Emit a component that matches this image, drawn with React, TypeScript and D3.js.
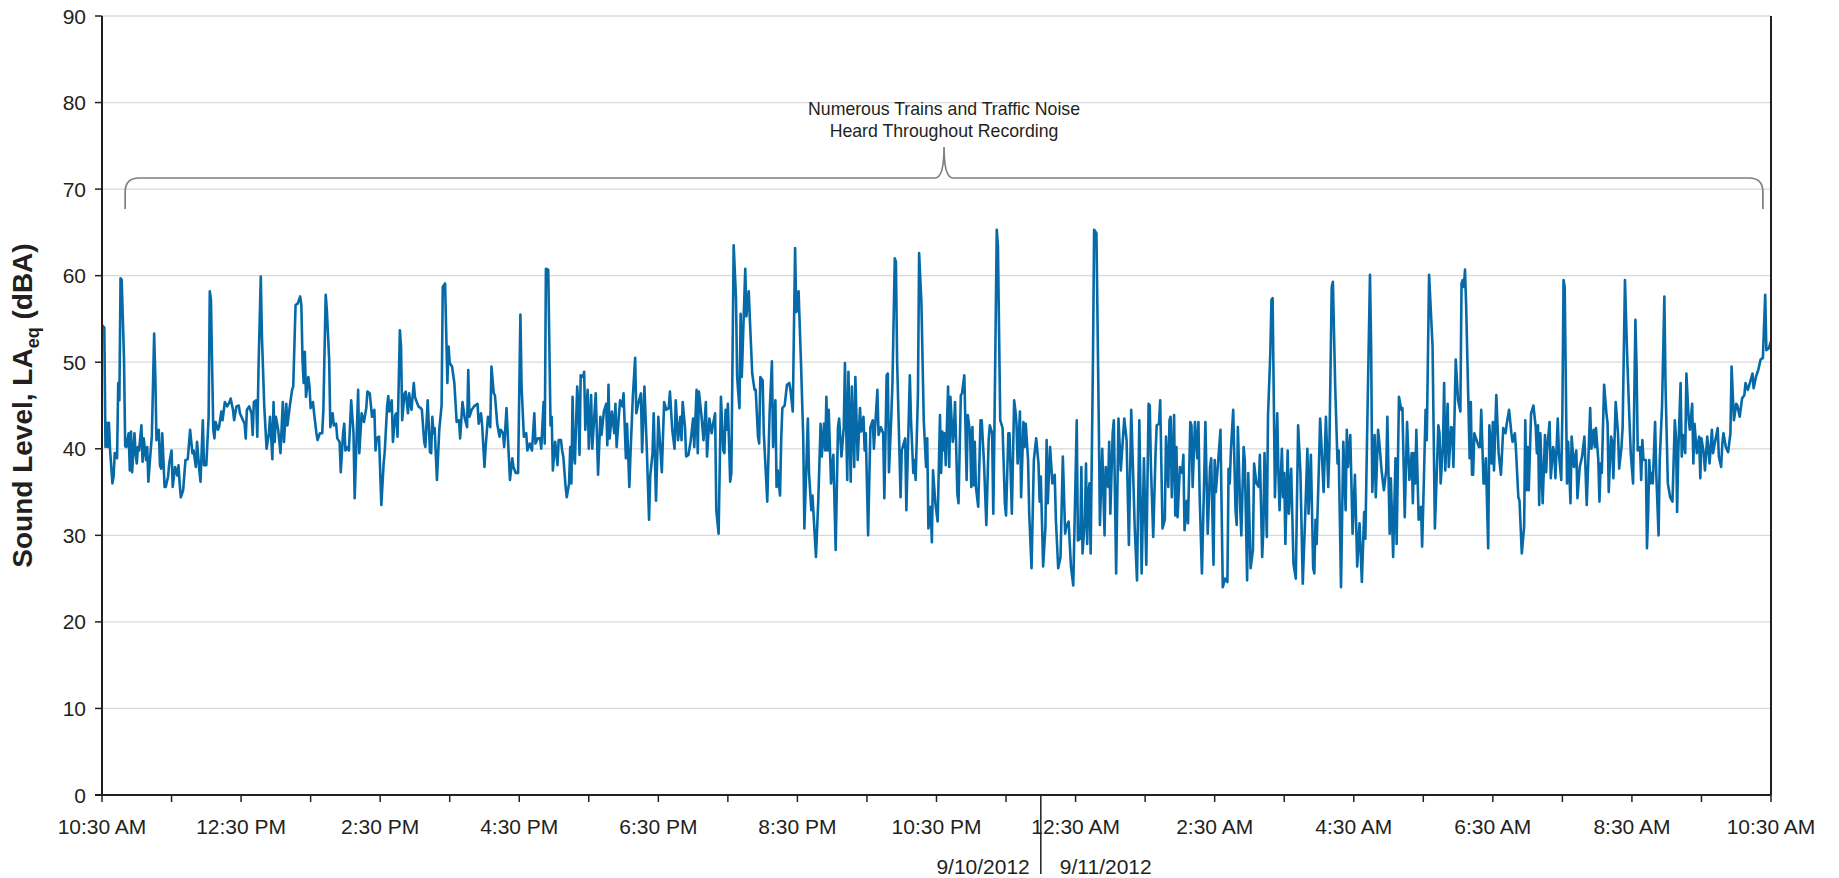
import React from 'react'
import * as d3 from 'd3'

// recording started 9/10/2012 10:30 AM, one LAeq value per reading (minutes after start)
const startTime = new Date(2012, 8, 10, 10, 30)
const recordMinutes = 1440

const yTicks = [0, 10, 20, 30, 40, 50, 60, 70, 80, 90]
const noteLines = ['Numerous Trains and Traffic Noise', 'Heard Throughout Recording']
const noteSpan = [20, 1433]

const readings: [number, number][] = [
  [0, 54.3], [2, 54], [3, 40.2], [4, 43], [5, 40.2], [6, 43], [7, 39.8], [9, 36], [10, 36.8], [11, 39.5], [13, 38.9], [14, 47.6], [15, 45.6], [16, 59.7], [17, 59.5], [19, 50.3], [20, 40.3], [21, 40.2], [23, 41.8], [24, 37.5], [25, 42], [26, 37.3], [28, 41.8], [29, 39.5], [30, 38.3], [31, 40.2], [32, 39.8], [34, 42.7], [35, 38.5], [36, 41.2], [38, 38.7], [39, 40.2], [40, 36.2], [42, 39.8], [43, 41.4], [45, 53.3], [46, 48.3], [47, 41], [49, 42.2], [50, 38.1], [51, 37.7], [52, 41.8], [54, 35.6], [55, 35.6], [57, 36.8], [58, 38.3], [60, 39.8], [61, 35.6], [63, 37.9], [65, 36.9], [66, 38.1], [67, 36], [68, 34.4], [70, 35.2], [72, 38.7], [74, 38.8], [76, 42.2], [78, 39.5], [79, 39.8], [81, 37.9], [82, 40.8], [84, 37.5], [85, 36.2], [87, 43.3], [88, 38.1], [90, 38.1], [92, 43.7], [93, 58.2], [94, 57.2], [96, 42.2], [97, 41.2], [98, 43.1], [100, 42.2], [101, 42.5], [103, 44.3], [104, 43.3], [106, 45.4], [108, 44.9], [110, 45.4], [111, 45.8], [113, 44.5], [114, 43.3], [116, 44.9], [118, 45], [119, 44.1], [121, 43.5], [123, 42.9], [124, 41.2], [125, 44.5], [127, 44.9], [129, 44.1], [130, 41.6], [131, 45.4], [133, 45.6],
  [134, 41.4], [135, 49.1], [137, 59.9], [138, 52.9], [140, 44.9], [142, 40], [144, 41.8], [145, 43.7], [147, 38.8], [148, 45.4], [149, 40.8], [150, 43.7], [152, 42.2], [154, 39.5], [156, 45.4], [157, 40.8], [159, 45.2], [160, 42.7], [162, 44.9], [164, 46.8], [165, 47.2], [167, 56.6], [169, 56.8], [171, 57.6], [172, 56.6], [173, 50.3], [174, 47.6], [175, 51.2], [176, 46], [178, 48.3], [179, 47.2], [180, 44.7], [182, 45.4], [183, 44.1], [185, 41.8], [186, 41], [188, 41.8], [190, 41.8], [191, 44.5], [193, 57.8], [194, 56], [196, 50.3], [197, 42.5], [199, 44.1], [200, 42.7], [202, 42.9], [203, 41.2], [205, 40.8], [206, 37.3], [208, 41.8], [209, 42.9], [210, 39.8], [212, 40.2], [213, 39.8], [215, 45.6], [217, 41.8], [218, 34.3], [221, 46.8], [222, 39.5], [224, 44.1], [226, 43.1], [228, 44.7], [229, 46.6], [231, 46.4], [233, 43.7], [235, 44.5], [236, 39.8], [237, 41.2], [239, 41.4], [241, 33.5], [243, 38.3], [244, 39.8], [246, 44.9], [247, 46.1], [248, 44.3], [250, 45.6], [251, 40.8], [253, 43.9], [254, 44.1], [255, 41.4], [257, 53.7], [258, 51.8], [259, 43.3], [261, 46.4], [262, 46.6], [264, 44.1],
  [265, 46.4], [267, 44.5], [269, 47.6], [270, 46], [271, 45.6], [273, 44.9], [275, 44.7], [276, 44.5], [278, 40.8], [279, 40.2], [281, 45.6], [283, 39.6], [284, 39.5], [285, 43.7], [286, 41.8], [287, 42.4], [289, 36.4], [291, 42.2], [293, 45], [294, 58.7], [296, 59.1], [298, 47.6], [299, 51.8], [300, 49.9], [302, 49.5], [304, 47.6], [306, 43.1], [308, 43.3], [309, 41.2], [311, 45.4], [313, 43.5], [315, 42.5], [316, 49.1], [317, 43.7], [319, 44.5], [321, 44.9], [324, 45.2], [325, 42.9], [327, 44.1], [328, 42.7], [330, 37.9], [331, 40.2], [333, 43.7], [335, 42.5], [336, 49.5], [338, 46.4], [339, 46.2], [341, 42.9], [343, 41.4], [344, 42.2], [346, 41.8], [347, 40.2], [349, 44.7], [351, 39.1], [352, 36.4], [354, 38.9], [355, 37.9], [357, 37.2], [359, 37.2], [361, 55.5], [362, 47.2], [364, 41.4], [366, 41.8], [367, 39.8], [369, 40.6], [371, 39.8], [373, 44.1], [374, 40.6], [376, 41.2], [378, 41.2], [379, 40], [381, 45.4], [382, 40.6], [383, 60.8], [385, 60.7], [387, 42.7], [388, 43.7], [389, 37.5], [391, 40.8], [393, 38.1], [394, 41],
  [396, 41], [397, 39.8], [398, 39.1], [400, 35.6], [401, 34.4], [403, 36], [404, 40.2], [405, 36], [406, 46], [407, 39.5], [408, 38.3], [410, 47.2], [411, 44.9], [412, 39.3], [413, 48.5], [415, 48.3], [416, 48.9], [417, 42.2], [419, 46.8], [420, 40], [422, 46.2], [423, 40], [426, 46.4], [428, 37], [430, 43.7], [431, 41.6], [433, 44.3], [435, 45.2], [436, 40.4], [437, 47.4], [438, 41.2], [440, 44.3], [442, 41.8], [443, 45.2], [444, 40.2], [446, 43.9], [447, 45.6], [449, 44.9], [450, 46.4], [452, 38.9], [453, 42.9], [455, 35.6], [456, 39.5], [458, 46], [460, 50.5], [461, 44.1], [463, 45.4], [465, 46.4], [466, 39.6], [468, 47.2], [470, 40.2], [472, 31.8], [473, 36.8], [475, 39.5], [476, 44.1], [478, 34], [480, 43.7], [483, 37.3], [485, 45.4], [487, 44.5], [489, 44.7], [490, 46.6], [492, 42.2], [494, 40], [495, 45.6], [497, 41], [499, 43.7], [500, 41], [501, 45.4], [503, 42.5], [504, 39.1], [506, 39.3], [508, 41], [510, 43.5], [511, 40.2], [513, 46.8], [514, 39.5], [515, 46.6], [517, 44.1], [519, 41], [521, 45.4], [522, 39.1], [524, 43.5], [526, 41.8],
  [527, 42.7], [529, 44.1], [530, 32.9], [532, 30.2], [534, 46], [536, 39.8], [537, 39.5], [538, 44.5], [539, 42.2], [540, 45.2], [542, 36.2], [543, 37.2], [545, 63.5], [547, 57.4], [548, 48.3], [549, 46.4], [550, 44.7], [551, 55.6], [552, 48.3], [555, 60.8], [556, 55.3], [558, 58.2], [559, 54.9], [561, 48.7], [563, 46.8], [564, 46.8], [566, 41.4], [567, 40.6], [568, 48.3], [570, 47.9], [571, 41.8], [574, 33.9], [576, 44.1], [578, 50.1], [579, 40.2], [581, 45.6], [582, 35.6], [583, 37.5], [585, 34.6], [586, 41], [587, 44.7], [589, 45], [591, 47.4], [593, 47.6], [594, 46.8], [596, 44.3], [598, 63.2], [599, 55.8], [600, 56], [601, 58.2], [603, 50.3], [605, 41.4], [606, 30.8], [609, 43.5], [610, 37.2], [612, 32.9], [613, 34.6], [616, 27.5], [618, 34], [620, 42.9], [621, 39.1], [623, 42.9], [624, 39.8], [625, 46], [626, 39.8], [627, 44.5], [629, 36], [631, 39.3], [633, 28.3], [635, 42.5], [636, 43.5], [638, 39.1], [640, 42.5], [641, 49.9], [643, 36.4], [644, 48.9], [646, 36.2], [647, 47.2], [649, 37.9], [650, 48.3], [652, 38.7], [654, 44.7], [655, 42], [657, 43.7], [658, 39.8],
  [659, 41.8], [661, 30], [663, 42.5], [665, 43.3], [666, 40], [667, 42.4], [669, 46.8], [670, 41.6], [672, 42.5], [674, 41.8], [675, 34.3], [677, 48.5], [678, 48.7], [679, 37.3], [681, 43.7], [682, 47.6], [684, 62], [685, 61.6], [686, 50.3], [689, 34.4], [690, 39.8], [693, 41.2], [694, 32.9], [697, 48.5], [698, 43.3], [700, 37.2], [701, 38.7], [702, 36.4], [704, 46.4], [705, 62.6], [707, 56.8], [709, 43.3], [711, 37.9], [712, 41.2], [713, 30.8], [715, 33.3], [716, 29.2], [717, 37.5], [719, 33.7], [721, 31.6], [723, 43.9], [724, 37.2], [725, 42], [726, 39.8], [727, 41.8], [728, 38.1], [730, 47.2], [731, 37.9], [732, 46], [734, 40.8], [735, 42], [736, 45.4], [738, 34.8], [739, 33.7], [741, 46.2], [742, 46.4], [744, 48.5], [746, 36.4], [747, 43.9], [749, 41.8], [750, 35.6], [751, 42.5], [752, 35.8], [753, 40.8], [754, 35.6], [756, 33.3], [758, 43.3], [759, 43.3], [761, 38.3], [763, 31.2], [765, 41], [766, 42.7], [768, 41.8], [769, 32.5], [770, 42.5], [772, 65.3], [773, 63.4], [775, 43.3], [777, 42.4], [779, 33.7], [780, 32.3], [782, 41.8], [783, 41.8], [785, 32.5], [787, 45.6], [788, 44.5],
  [789, 42.9], [790, 38.3], [792, 44.3], [793, 34.4], [795, 43.1], [796, 40.2], [797, 42.9], [799, 38.7], [800, 32.5], [802, 26.2], [804, 38.7], [806, 41.2], [808, 38.3], [809, 33.9], [810, 36.8], [812, 26.4], [814, 31], [815, 41], [816, 33.7], [818, 40.2], [820, 36], [822, 37], [823, 31.8], [825, 26.2], [827, 27.5], [829, 39.1], [831, 30.2], [832, 31], [834, 31.6], [836, 26.4], [838, 24.2], [841, 43.3], [842, 29.4], [844, 29.6], [845, 37.9], [846, 27.9], [848, 31.8], [849, 38.3], [850, 29], [851, 34.8], [852, 36], [853, 27.9], [855, 50.3], [856, 65.3], [858, 64.9], [860, 43.3], [861, 31.2], [863, 40], [865, 30], [866, 37.9], [868, 35.6], [869, 40.8], [870, 32.5], [872, 41.8], [873, 43.3], [875, 25.6], [877, 43.5], [879, 37.5], [880, 39.5], [882, 43.5], [884, 41], [886, 28.9], [888, 44.5], [890, 35.6], [891, 31], [893, 24.8], [895, 43.3], [897, 25.6], [899, 38.9], [901, 26.6], [903, 45.2], [904, 45], [905, 37.9], [907, 29.8], [909, 39.5], [910, 42.7], [912, 42.9], [913, 45.6], [915, 30.8], [917, 31.8], [918, 41.4], [920, 35.6],
  [921, 43.3], [922, 43.7], [923, 34.4], [925, 43.9], [926, 32.3], [927, 40.2], [928, 32.1], [930, 37.9], [932, 37.2], [933, 39.3], [934, 30.6], [936, 34], [937, 31.4], [939, 43.1], [940, 42.7], [941, 35.6], [943, 43.1], [945, 38.9], [946, 43.1], [947, 34.8], [949, 25.6], [951, 36.8], [952, 43.1], [954, 30.2], [956, 37.9], [957, 38.9], [959, 26.6], [960, 38.7], [961, 35], [963, 38.5], [965, 42.2], [967, 24], [969, 25], [971, 24.6], [972, 37.7], [973, 36], [974, 39.8], [976, 44.5], [978, 32.9], [979, 31.2], [980, 42.5], [982, 33.3], [983, 30], [985, 40.2], [986, 38.7], [988, 24.8], [989, 37.2], [991, 26.2], [993, 28.3], [994, 38.3], [996, 36], [998, 35.6], [999, 39.3], [1001, 27.5], [1002, 30.6], [1003, 39.5], [1005, 29.8], [1006, 43.7], [1008, 51], [1009, 57.2], [1010, 57.4], [1012, 34.4], [1014, 44.1], [1015, 37.2], [1016, 32.9], [1018, 40], [1019, 34.4], [1020, 37.2], [1021, 29], [1023, 39.8], [1024, 32.5], [1026, 37.7], [1028, 26.7], [1030, 25], [1032, 42.7], [1034, 37.2], [1036, 24.4], [1038, 31.8], [1040, 40], [1041, 32.5], [1043, 39.3], [1045, 26.2], [1046, 25.6], [1047, 31.8], [1048, 29], [1050, 38.3], [1051, 43.5],
  [1052, 40.8], [1054, 35], [1056, 43.7], [1058, 35.6], [1059, 40.2], [1061, 58.7], [1062, 59.3], [1064, 47.2], [1066, 38.3], [1067, 39.8], [1069, 24], [1071, 40.8], [1073, 32.9], [1074, 42.2], [1075, 37.9], [1077, 41.6], [1079, 30.2], [1081, 37], [1083, 26.4], [1085, 31.4], [1087, 24.6], [1089, 32.7], [1090, 29.6], [1092, 45.2], [1094, 60.1], [1095, 51.8], [1096, 35], [1098, 41.6], [1099, 34.4], [1101, 42.2], [1102, 40.8], [1104, 37.5], [1106, 35.2], [1108, 37.5], [1109, 43.7], [1111, 30.2], [1112, 36.6], [1114, 27.5], [1116, 38.9], [1117, 29], [1119, 46], [1121, 44.5], [1122, 44.7], [1124, 32.1], [1126, 43.1], [1128, 36.4], [1130, 39.5], [1131, 33.7], [1132, 39.5], [1133, 36], [1134, 42.2], [1136, 31.8], [1138, 33.3], [1139, 28.7], [1140, 33.7], [1142, 44.5], [1143, 41], [1145, 60.1], [1148, 51.8], [1150, 30.8], [1153, 42.7], [1154, 41.8], [1155, 36], [1157, 40.6], [1158, 47.6], [1159, 37.5], [1161, 45.2], [1162, 37.9], [1164, 42.5], [1165, 42.4], [1166, 37.9], [1168, 50.3], [1170, 45.6], [1172, 44.3], [1173, 59.1], [1174, 59.5], [1175, 58.7], [1176, 60.7], [1177, 56.4], [1180, 38.9], [1181, 45.4], [1182, 37],
  [1183, 37], [1184, 41.8], [1186, 41], [1188, 40.2], [1189, 40.2], [1190, 44.5], [1192, 36], [1193, 36], [1194, 38.9], [1196, 28.5], [1197, 42.7], [1199, 38.3], [1200, 43.1], [1201, 37.5], [1203, 46.2], [1205, 39.5], [1207, 37], [1209, 42.4], [1211, 41.8], [1212, 42.9], [1214, 44.5], [1216, 41.8], [1217, 40.8], [1219, 41.8], [1220, 39.8], [1222, 34.4], [1223, 34], [1225, 27.9], [1227, 31], [1228, 43.3], [1229, 35.2], [1230, 40.2], [1231, 35.2], [1233, 44.1], [1235, 45], [1237, 42.5], [1238, 39.5], [1239, 42.7], [1240, 33.5], [1241, 41.8], [1243, 33.7], [1245, 41.6], [1246, 37.3], [1247, 40.2], [1249, 43.1], [1250, 36.6], [1252, 40.2], [1253, 39.5], [1254, 36.6], [1256, 43.5], [1257, 39.5], [1259, 36.4], [1260, 44.1], [1261, 59.5], [1262, 58.7], [1264, 36], [1265, 40.8], [1267, 33.7], [1268, 41.4], [1270, 37.9], [1272, 39.8], [1273, 34.3], [1275, 37.9], [1277, 39.1], [1279, 41.4], [1281, 33.5], [1283, 41], [1284, 44.7], [1285, 40], [1287, 42.2], [1288, 40.2], [1289, 42.4], [1291, 38.7], [1292, 33.9], [1293, 38.3], [1294, 37.2], [1296, 47.4], [1298, 44.1], [1299, 42.9], [1300, 35], [1302, 41.4], [1303, 40.8], [1304, 36.6], [1306, 45.4], [1308, 41.8], [1309, 37.7], [1311, 40.2], [1312, 42.5],
  [1314, 59.5], [1316, 50.3], [1318, 42.9], [1319, 39.5], [1321, 36], [1323, 54.9], [1324, 49.5], [1325, 39.8], [1327, 40.2], [1328, 36.4], [1329, 41], [1330, 38.7], [1332, 38.7], [1333, 28.5], [1334, 32.5], [1335, 38.7], [1336, 36], [1337, 37.2], [1338, 36], [1340, 43.1], [1341, 37.2], [1343, 30], [1344, 38.7], [1346, 44.9], [1348, 57.6], [1349, 47.2], [1351, 36], [1353, 34.4], [1355, 33.9], [1357, 43.3], [1358, 41.4], [1359, 32.7], [1360, 39.5], [1362, 47.6], [1363, 39.1], [1364, 41.6], [1366, 39.5], [1367, 48.7], [1369, 43.3], [1370, 42.2], [1372, 45.2], [1373, 38.3], [1374, 42.9], [1376, 39.5], [1378, 41.4], [1379, 36.6], [1380, 41.2], [1382, 39.5], [1383, 37.5], [1385, 41.4], [1387, 38.3], [1389, 42.2], [1390, 39.5], [1392, 41], [1394, 42.4], [1395, 39.1], [1397, 37.9], [1398, 40.6], [1399, 41.8], [1401, 40.2], [1403, 39.6], [1405, 41.8], [1406, 49.5], [1408, 43.3], [1410, 45.2], [1411, 45], [1413, 43.7], [1415, 45.8], [1417, 46.2], [1418, 47.6], [1420, 46.8], [1422, 47.7], [1424, 48.7], [1425, 47], [1427, 48.3], [1429, 49.1], [1431, 50.3], [1433, 50.5], [1435, 57.8], [1436, 51.4], [1438, 51.6], [1440, 52.4]
]

const W = 1839
const H = 878
const plot = { left: 102, right: 1771, top: 16, bottom: 795 }
const font = "'Liberation Sans', Arial, Helvetica, sans-serif"
const ink = '#231f20'

export default function App () {
  const at = (m: number) => d3.timeMinute.offset(startTime, m)
  const x = d3.scaleTime()
    .domain([startTime, at(recordMinutes)])
    .range([plot.left, plot.right])
  const y = d3.scaleLinear().domain([0, 90]).range([plot.bottom, plot.top])

  const line = d3.line<[number, number]>()
    .x(d => x(at(d[0])))
    .y(d => y(d[1]))

  const hourTicks = d3.range(0, recordMinutes / 60 + 1).map(h => at(h * 60))
  const fmt = d3.timeFormat('%-I:%M %p')
  const dayFmt = d3.timeFormat('%-m/%-d/%Y')
  const midnight = d3.timeDay.ceil(startTime)
  const xm = x(midnight)

  // curly brace over the whole recording
  const bx1 = x(at(noteSpan[0]))
  const bx2 = x(at(noteSpan[1]))
  const bmid = (bx1 + bx2) / 2
  const by = 178
  const bEnd = 209
  const bTip = 147
  const r = 14
  const brace = `M${bx1},${bEnd} L${bx1},${by + r} Q${bx1},${by} ${bx1 + r},${by} ` +
    `L${bmid - 9},${by} Q${bmid},${by} ${bmid},${bTip} Q${bmid},${by} ${bmid + 9},${by} ` +
    `L${bx2 - r},${by} Q${bx2},${by} ${bx2},${by + r} L${bx2},${bEnd}`

  return (
    <svg width={W} height={H} style={{ position: 'absolute', left: 0, top: 0, background: '#fff' }}
      fontFamily={font}>
      <g>
        {yTicks.filter(t => t > 0).map(t => (
          <line key={t} x1={plot.left} x2={plot.right} y1={y(t)} y2={y(t)} stroke='#d9d9d9' strokeWidth={1.3} />
        ))}
      </g>

      <path d={line(readings) || ''} fill='none' stroke='#066aa8' strokeWidth={2.6} strokeLinejoin='round' />

      {/* axes */}
      <line x1={plot.left} x2={plot.left} y1={plot.top} y2={plot.bottom} stroke={ink} strokeWidth={2} />
      <line x1={plot.right} x2={plot.right} y1={plot.top} y2={plot.bottom} stroke={ink} strokeWidth={2} />
      <line x1={plot.left - 7} x2={plot.right} y1={plot.bottom} y2={plot.bottom} stroke={ink} strokeWidth={2} />

      {yTicks.map(t => (
        <g key={t}>
          <line x1={plot.left - 7} x2={plot.left} y1={y(t)} y2={y(t)} stroke={ink} strokeWidth={1.5} />
          <text x={86} y={y(t)} dy='0.36em' textAnchor='end' fontSize={21} fill={ink}>{t}</text>
        </g>
      ))}

      {hourTicks.map((d, i) => (
        <g key={i}>
          <line x1={x(d)} x2={x(d)} y1={plot.bottom} y2={plot.bottom + 7} stroke={ink} strokeWidth={1.5} />
          {i % 2 === 0 && (
            <text x={x(d)} y={834} textAnchor='middle' fontSize={21} fill={ink}>{fmt(d)}</text>
          )}
        </g>
      ))}

      <line x1={xm} x2={xm} y1={plot.bottom} y2={874} stroke={ink} strokeWidth={1.5} />
      <text x={xm - 11} y={874} textAnchor='end' fontSize={21} fill={ink}>{dayFmt(startTime)}</text>
      <text x={xm + 19} y={874} textAnchor='start' fontSize={21} fill={ink}>{dayFmt(midnight)}</text>

      <text transform={`translate(32,${(plot.top + plot.bottom) / 2}) rotate(-90)`} textAnchor='middle'
        fontSize={28} fontWeight='bold' fill={ink}>
        <tspan>Sound Level, LA</tspan>
        <tspan fontSize={18} dy={7}>eq</tspan>
        <tspan dy={-7}> (dBA)</tspan>
      </text>

      <path d={brace} fill='none' stroke='#7f7f7f' strokeWidth={1.7} />
      {noteLines.map((s, i) => (
        <text key={i} x={bmid} y={115 + i * 22} textAnchor='middle' fontSize={17.7} fill={ink}>{s}</text>
      ))}
    </svg>
  )
}
